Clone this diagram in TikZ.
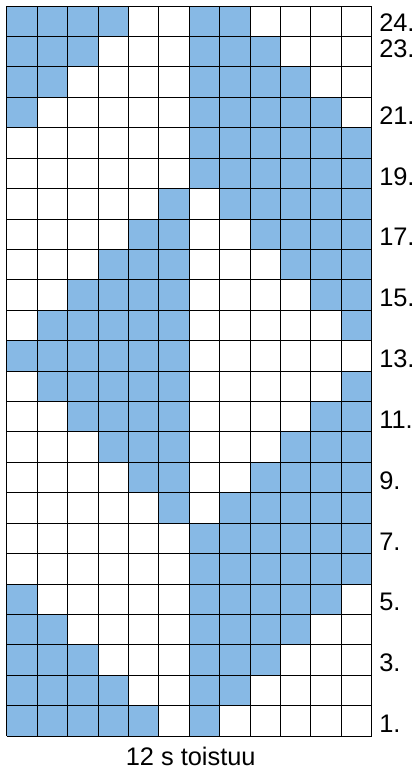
\documentclass[tikz,border=0pt]{standalone}
\usepackage{fontspec}
\setmainfont{Liberation Sans}
\definecolor{stitchblue}{RGB}{135,185,229}

\begin{document}
\begin{tikzpicture}[
		x=0.8cm,y=0.8cm,
		every node/.style={font=\fontsize{19}{21}\selectfont, inner sep=0pt},
		rowlabel/.style={anchor=west}
		]
		\useasboundingbox (-0.22,-1.085) rectangle (13.455,24.197);
		
		% =========================
		% Blue stitches, row by row (row/columns)
		% =========================
		\foreach \r/\cols in {
			24/{1,2,3,4,7,8},
			23/{1,2,3,7,8,9},
			22/{1,2,7,8,9,10},
			21/{1,7,8,9,10,11},
			20/{7,8,9,10,11,12},
			19/{7,8,9,10,11,12},
			18/{6,8,9,10,11,12},
			17/{5,6,9,10,11,12},
			16/{4,5,6,10,11,12},
			15/{3,4,5,6,11,12},
			14/{2,3,4,5,6,12},
			13/{1,2,3,4,5,6},
			12/{2,3,4,5,6,12},
			11/{3,4,5,6,11,12},
			10/{4,5,6,10,11,12},
			9/{5,6,9,10,11,12},
			8/{6,8,9,10,11,12},
			7/{7,8,9,10,11,12},
			6/{7,8,9,10,11,12},
			5/{1,7,8,9,10,11},
			4/{1,2,7,8,9,10},
			3/{1,2,3,7,8,9},
			2/{1,2,3,4,7,8},
			1/{1,2,3,4,5,7}} {
			\foreach \c in \cols {
				\fill[stitchblue] (\c-1,\r-1) rectangle (\c,\r);
			}
		}
		
		% grid lines
		\draw[line width=0.6pt, step=1] (0,0) grid (12,24);
		
		% =========================
		% Row numbers and caption
		% =========================
		\foreach \r in {1,3,...,21}
		\node[rowlabel] (row\r) at (12.24,\r-0.6) {\r.};
		\node[rowlabel] (row23) at (12.24,22.58) {23.};
		\node[rowlabel] (row24) at (12.24,23.44) {24.};
		
		\node[anchor=base] (repeat) at (6.05,-0.976) {12 s toistuu};
		
	\end{tikzpicture}
\end{document}
